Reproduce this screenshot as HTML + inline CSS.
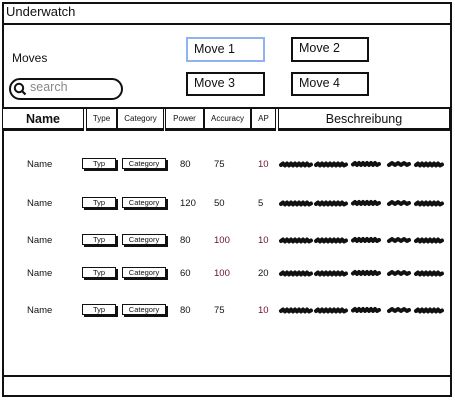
<!DOCTYPE html>
<html><head><meta charset="utf-8"><style>
*{margin:0;padding:0;box-sizing:border-box}
body{width:455px;height:400px;background:#fff;position:relative;overflow:hidden;font-family:"Liberation Sans",sans-serif;color:#111}
.a{position:absolute}
.box{position:absolute;border:2px solid #111;background:#fff}
.t{position:absolute;white-space:nowrap}
.hc{position:absolute;top:108px;height:23px;border:1.5px solid #111;border-bottom:3px solid #111;background:#fff;font-size:8px;text-align:center;line-height:20px}
.sb{position:absolute;height:11px;border:1.5px solid #111;box-shadow:2px 2px 0 #111;font-size:7.5px;text-align:center;line-height:9px;background:#fff}
.n{position:absolute;font-size:9.5px}
.r{color:#6a1030}
</style></head><body>
<div class="box" style="left:2px;top:2px;width:450px;height:395px"></div>
<div class="a" style="left:2px;top:23px;width:450px;height:2px;background:#111"></div>
<div class="t" style="left:6px;top:4px;font-size:13px">Underwatch</div>
<div class="t" style="left:12px;top:51px;font-size:12px">Moves</div>
<div class="a" style="left:9px;top:78px;width:114px;height:22px;border:2px solid #111;border-radius:11px"></div>
<svg class="a" style="left:13px;top:82px" width="14" height="14"><circle cx="6" cy="6" r="4.2" fill="none" stroke="#111" stroke-width="2"/><line x1="9" y1="9" x2="12.5" y2="12.5" stroke="#111" stroke-width="2.2"/></svg>
<div class="t" style="left:30px;top:80px;font-size:12.5px;color:#888">search</div>
<div class="a" style="left:186px;top:37px;width:79px;height:25px;border:2px solid #8fb3ee;font-size:12.5px;padding:3px 0 0 6px">Move 1</div>
<div class="box" style="left:291px;top:37px;width:78px;height:25px;font-size:12.5px;padding:2px 0 0 6px">Move 2</div>
<div class="box" style="left:186px;top:72px;width:79px;height:24px;font-size:12.5px;padding:2px 0 0 6px">Move 3</div>
<div class="box" style="left:291px;top:72px;width:78px;height:24px;font-size:12.5px;padding:2px 0 0 6px">Move 4</div>
<div class="a" style="left:2px;top:107px;width:450px;height:2px;background:#111"></div>
<div class="hc" style="left:2px;width:82px;font-size:12.5px;font-weight:bold">Name</div>
<div class="hc" style="left:86px;width:31px">Type</div>
<div class="hc" style="left:117px;width:47px">Category</div>
<div class="hc" style="left:165px;width:39px">Power</div>
<div class="hc" style="left:204px;width:47px">Accuracy</div>
<div class="hc" style="left:251px;width:25px">AP</div>
<div class="hc" style="left:278px;width:172px;font-size:12.5px">Beschreibung</div>

<div class="n" style="left:27px;top:159px">Name</div><div class="sb" style="left:82px;top:158px;width:34px">Typ</div><div class="sb" style="left:122px;top:158px;width:44px">Category</div><div class="n" style="left:180px;top:159px">80</div><div class="n" style="left:214px;top:159px">75</div><div class="n r" style="left:258px;top:159px">10</div>
<div class="n" style="left:27px;top:198px">Name</div><div class="sb" style="left:82px;top:197px;width:34px">Typ</div><div class="sb" style="left:122px;top:197px;width:44px">Category</div><div class="n" style="left:180px;top:198px">120</div><div class="n" style="left:214px;top:198px">50</div><div class="n" style="left:258px;top:198px">5</div>
<div class="n" style="left:27px;top:235px">Name</div><div class="sb" style="left:82px;top:234px;width:34px">Typ</div><div class="sb" style="left:122px;top:234px;width:44px">Category</div><div class="n" style="left:180px;top:235px">80</div><div class="n r" style="left:214px;top:235px">100</div><div class="n r" style="left:258px;top:235px">10</div>
<div class="n" style="left:27px;top:268px">Name</div><div class="sb" style="left:82px;top:267px;width:34px">Typ</div><div class="sb" style="left:122px;top:267px;width:44px">Category</div><div class="n" style="left:180px;top:268px">60</div><div class="n r" style="left:214px;top:268px">100</div><div class="n" style="left:258px;top:268px">20</div>
<div class="n" style="left:27px;top:305px">Name</div><div class="sb" style="left:82px;top:304px;width:34px">Typ</div><div class="sb" style="left:122px;top:304px;width:44px">Category</div><div class="n" style="left:180px;top:305px">80</div><div class="n" style="left:214px;top:305px">75</div><div class="n r" style="left:258px;top:305px">10</div>

<svg class="a" style="left:0;top:0" width="455" height="400">
<defs><g id="s" stroke="#111" stroke-width="4" fill="none" stroke-linecap="round" stroke-linejoin="round">
<path d="M281 1 l2 -1.5 l2 2 l2 -2 l2 2 l2 -2 l2 2 l2 -2 l2 2 l2 -2 l2 2 l2 -2 l2 2 l2 -2 l2 2 l2 -1"/>
<path d="M316 1 l2 -1.5 l2 2 l2 -2 l2 2 l2 -2 l2 2 l2 -2 l2 2 l2 -2 l2 2 l2 -2 l2 2 l2 -2 l2 2 l2 -1"/>
<path d="M353 0.5 l2 -1.5 l2 2 l2 -2 l2 2 l2 -2 l2 2 l2 -2 l2 2 l2 -2 l2 2 l2 -2 l2 2 l2 -1"/>
<path d="M389 1 l3 -2 l3 2 l3 -2 l3 2 l3 -2 l3 2 l2 -1"/>
<path d="M416 1 l2 -1.5 l2 2 l2 -2 l2 2 l2 -2 l2 2 l2 -2 l2 2 l2 -2 l2 2 l2 -2 l2 2 l2 -1"/>
</g></defs>
<use href="#s" y="164"/><use href="#s" y="203"/><use href="#s" y="240"/><use href="#s" y="273"/><use href="#s" y="310"/>
</svg>
<div class="a" style="left:2px;top:375px;width:450px;height:2px;background:#111"></div>
</body></html>
